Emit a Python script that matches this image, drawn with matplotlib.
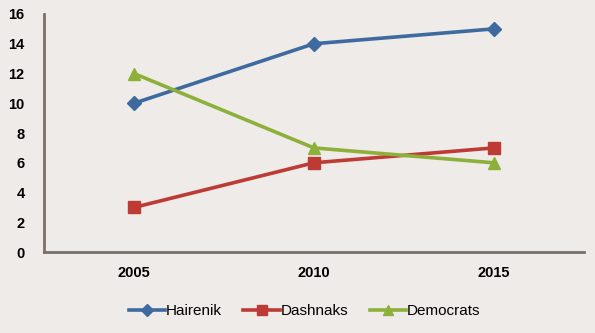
import matplotlib
matplotlib.use("Agg")
import matplotlib.pyplot as plt

years = ["2005", "2010", "2015"]
hairenik = [10, 14, 15]
dashnaks = [3, 6, 7]
democrats = [12, 7, 6]

BG = "#EEEBE8"
BLUE = "#3E6AA0"
RED = "#BE3A34"
GREEN = "#8DB03A"
AXIS = "#7A706B"

plt.rcParams["font.family"] = ["Liberation Sans", "DejaVu Sans"]

fig = plt.figure(figsize=(5.95, 3.33), dpi=100)
fig.patch.set_facecolor(BG)
ax = fig.add_axes([0.074, 0.243, 0.907, 0.715])
ax.set_facecolor(BG)

x = list(range(len(years)))
ax.plot(x, hairenik, color=BLUE, lw=2.6, marker="D", markersize=7, label="Hairenik")
ax.plot(x, dashnaks, color=RED, lw=2.6, marker="s", markersize=8, label="Dashnaks")
ax.plot(x, democrats, color=GREEN, lw=2.6, marker="^", markersize=9, label="Democrats")

ax.set_xlim(-0.5, 2.5)
ax.set_ylim(0, 16)
ax.set_yticks(range(0, 17, 2))
ax.set_xticks(x)
ax.set_xticklabels(years)
ax.tick_params(axis="y", length=0, pad=14, labelsize=10.5)
ax.tick_params(axis="x", length=0, pad=10, labelsize=10.5)
for lab in ax.get_yticklabels() + ax.get_xticklabels():
    lab.set_fontweight("bold")

for s in ("top", "right"):
    ax.spines[s].set_visible(False)
for s in ("left", "bottom"):
    ax.spines[s].set_color(AXIS)
    ax.spines[s].set_linewidth(2)

leg = fig.legend(loc="center", bbox_to_anchor=(0.512, 0.065), ncol=3, frameon=False,
                 fontsize=11, handlelength=2.4, columnspacing=1.4, handletextpad=0.05,
                 markerscale=0.85)

fig.savefig("out.png", dpi=100, facecolor=BG)
